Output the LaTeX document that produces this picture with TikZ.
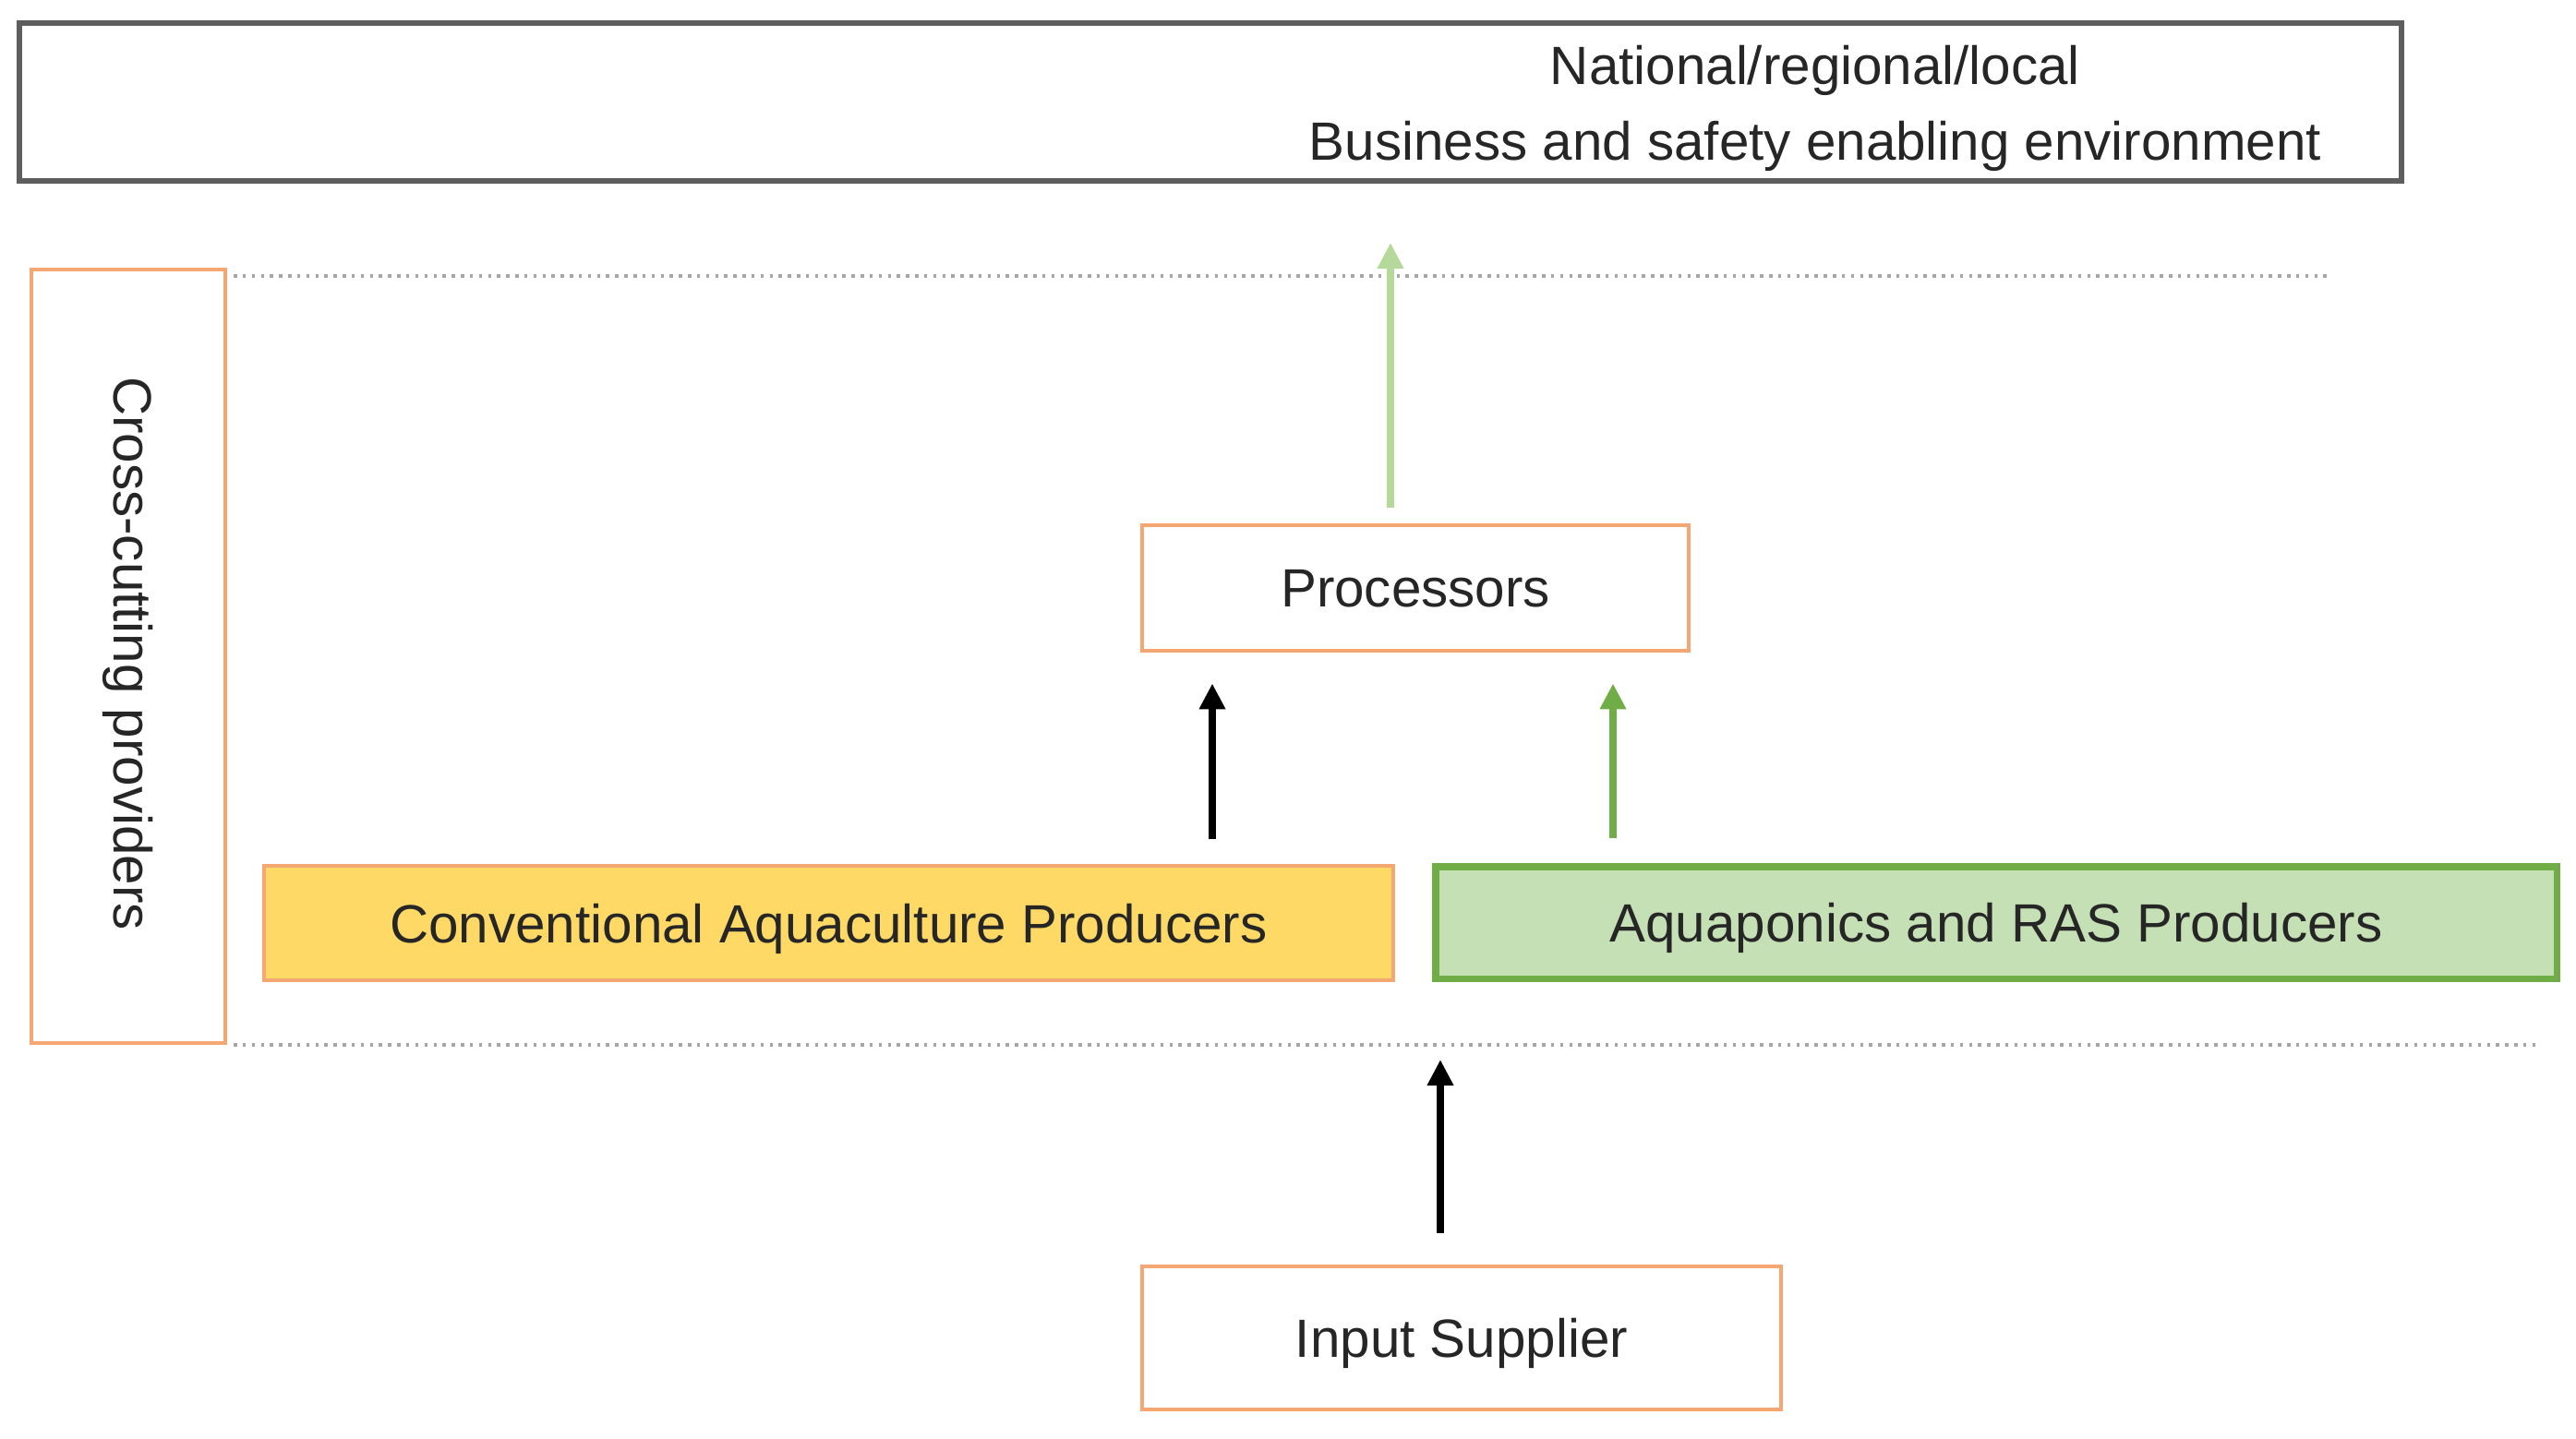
\documentclass[tikz,border=0pt]{standalone}
\usepackage{fontspec}
\setmainfont{Liberation Sans}
\usetikzlibrary{arrows.meta}
\definecolor{boxorange}{HTML}{F4A673}
\definecolor{convyellow}{HTML}{FFD966}
\definecolor{aquafill}{HTML}{C5E0B4}
\definecolor{aqualine}{HTML}{70AD47}
\definecolor{palegreen}{HTML}{B4D99A}
\definecolor{framegray}{HTML}{5E5E5E}
\definecolor{dotgray}{HTML}{A6A6A6}
\definecolor{txtgray}{HTML}{262626}

\tikzset{
  actor/.style={draw=boxorange, line width=1.4pt, inner sep=0pt, text=txtgray,
    text depth=0pt, font=\fontsize{16.6}{23.3}\selectfont},
  flow/.style={line width=2.1pt, -{Triangle[length=0.28cm,width=0.27cm]}},
  level/.style={draw=dotgray, line width=0.9pt, dash pattern=on 1pt off 1.8pt}
}

\begin{document}
\begin{tikzpicture}
      \useasboundingbox (0,0) rectangle (27.9,-15.58);
      % frame at the top
      \node (env) [draw=framegray, line width=1.6pt, minimum width=25.8cm,
        minimum height=1.71cm, inner sep=0pt] at (13.11,-1.105) {};
      \node (envtxt) [align=center, text=txtgray,
        font=\fontsize{16.6}{23.3}\selectfont] at (19.66,-1.17)
        {National/regional/local\\Business and safety enabling environment};
      % chain levels
      \draw[level] (2.53,-2.99) -- (25.23,-2.99);
      \draw[level] (2.53,-11.32) -- (27.49,-11.32);
      \node (cross) [actor, minimum width=2.1cm, minimum height=8.38cm]
        at (1.39,-7.11) {};
      \node (crosstxt) [text=txtgray, rotate=-90,
        font=\fontsize{16.6}{23.3}\selectfont] at (1.39,-7.08) {Cross-cutting providers};
      \node (proc) [actor, fill=white, minimum width=5.92cm, minimum height=1.36cm]
        at (15.33,-6.37) {Processors};
      \node (conv) [actor, fill=convyellow, minimum width=12.23cm, minimum height=1.24cm]
        at (8.975,-10.0) {Conventional Aquaculture Producers};
      \node (aqua) [actor, draw=aqualine, line width=2pt, fill=aquafill,
        minimum width=12.14cm, minimum height=1.21cm]
        at (21.62,-9.995) {Aquaponics and RAS Producers};
      \node (input) [actor, minimum width=6.92cm, minimum height=1.55cm]
        at (15.83,-14.495) {Input Supplier};
      % arrows
      \coordinate (toenv) at (15.06,-2.63);
      \coordinate (cx) at (13.13,0);
      \coordinate (ax) at (17.47,0);
      \coordinate (tolevel) at (15.60,-11.48);
      \draw[flow, draw=palegreen, fill=palegreen, shorten <=0.17cm]
        (proc.north -| toenv) -- (toenv);
      \draw[flow, black, shorten <=0.27cm, shorten >=0.33cm]
        (conv.north -| cx) -- (proc.south -| cx);
      \draw[flow, aqualine, shorten <=0.27cm, shorten >=0.33cm]
        (aqua.north -| ax) -- (proc.south -| ax);
      \draw[flow, black, shorten <=0.34cm] (input.north -| tolevel) -- (tolevel);
    \end{tikzpicture}
\end{document}
